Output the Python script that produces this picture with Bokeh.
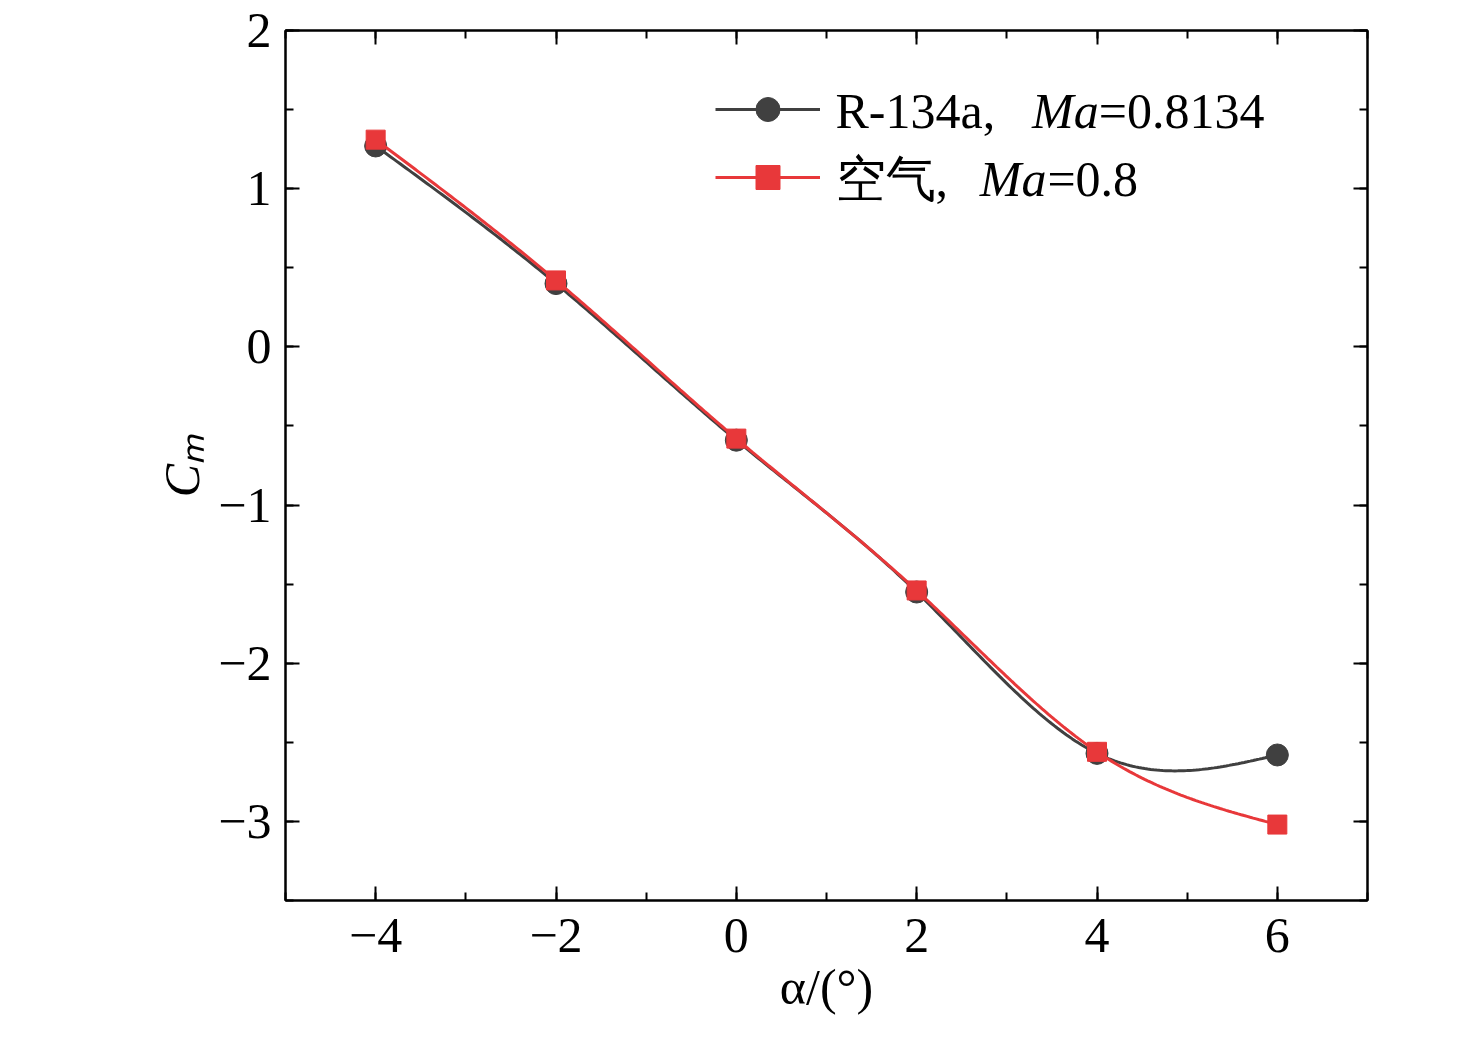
import numpy as np
from bokeh.plotting import figure
from bokeh.models import FixedTicker, LinearAxis, Range1d, Legend, LegendItem, Label
from bokeh.embed import file_html
from bokeh.resources import INLINE

alpha = [-4, -2, 0, 2, 4, 6]
cm_r134a = [1.27, 0.40, -0.59, -1.55, -2.57, -2.58]
cm_air = [1.31, 0.42, -0.58, -1.54, -2.56, -3.02]
x_ticks = [-4, -2, 0, 2, 4, 6]
y_ticks = [-3, -2, -1, 0, 1, 2]

def spline(x, y, n=300):
    x = np.asarray(x, float); y = np.asarray(y, float)
    k = len(x); h = np.diff(x)
    A = np.zeros((k, k)); b = np.zeros(k)
    A[0, 0] = A[-1, -1] = 1
    for i in range(1, k - 1):
        A[i, i - 1] = h[i - 1]; A[i, i] = 2 * (h[i - 1] + h[i]); A[i, i + 1] = h[i]
        b[i] = 6 * ((y[i + 1] - y[i]) / h[i] - (y[i] - y[i - 1]) / h[i - 1])
    M = np.linalg.solve(A, b)
    xs = np.linspace(x[0], x[-1], n)
    idx = np.clip(np.searchsorted(x, xs) - 1, 0, k - 2)
    x0, x1 = x[idx], x[idx + 1]; hh = x1 - x0
    ys = (M[idx] * (x1 - xs) ** 3 + M[idx + 1] * (xs - x0) ** 3) / (6 * hh) \
        + (y[idx] / hh - M[idx] * hh / 6) * (x1 - xs) + (y[idx + 1] / hh - M[idx + 1] * hh / 6) * (xs - x0)
    return xs, ys

FONT = "Liberation Serif"
FS = "50px"
p = figure(width=1460, height=1020, output_backend="svg", toolbar_location=None,
           x_range=Range1d(-5, 7), y_range=Range1d(-3.5, 2),
           min_border_left=285, min_border_top=30, min_border_right=93, min_border_bottom=120)
p.grid.visible = False
p.outline_line_color = "black"; p.outline_line_width = 2

def style(ax, ticks, minor, labels=True):
    ax.ticker = FixedTicker(ticks=ticks, minor_ticks=minor)
    ax.major_tick_in = 14; ax.major_tick_out = 0
    ax.minor_tick_in = 8; ax.minor_tick_out = 0
    ax.axis_line_width = 2; ax.major_tick_line_width = 2; ax.minor_tick_line_width = 2
    ax.major_label_text_font = FONT; ax.major_label_text_font_size = FS
    ax.major_label_text_color = "black"
    ax.axis_label_text_font = FONT; ax.axis_label_text_font_size = FS
    ax.axis_label_text_color = "black"
    ax.major_label_overrides = {t: (str(t).replace("-", "−")) for t in ticks}
    if not labels:
        ax.major_label_text_font_size = "0px"

xminor = list(np.arange(-5, 7.01, 1.0)); yminor = list(np.arange(-3.5, 2.01, 0.5))
style(p.xaxis[0], x_ticks, xminor); style(p.yaxis[0], y_ticks, yminor)
p.xaxis[0].axis_label = "α/(°)"; p.xaxis[0].axis_label_text_font_style = "normal"
p.xaxis[0].major_label_standoff = 18
p.xaxis[0].axis_label_standoff = 4
p.yaxis[0].axis_label = "Cₘ"; p.yaxis[0].axis_label_text_font_style = "italic"
p.yaxis[0].major_label_standoff = 14
ta = LinearAxis(); style(ta, x_ticks, xminor, False); p.add_layout(ta, "above")
ra = LinearAxis(); style(ra, y_ticks, yminor, False); p.add_layout(ra, "right")

gray, red = "#404040", "#e8383a"
xs, ys = spline(alpha, cm_r134a)
l1 = p.line(xs, ys, color=gray, line_width=3)
s1 = p.scatter(alpha, cm_r134a, marker="circle", size=22, color=gray)
xs, ys = spline(alpha, cm_air)
l2 = p.line(xs, ys, color=red, line_width=3)
s2 = p.scatter(alpha, cm_air, marker="square", size=19, color=red)

leg = Legend(items=[LegendItem(label=" ", renderers=[l1, s1]), LegendItem(label=" ", renderers=[l2, s2])],
             location=(430, 693), glyph_width=105, glyph_height=60, label_height=60,
             spacing=8, padding=0, margin=0, border_line_alpha=0, background_fill_alpha=0,
             label_text_font_size="10px")
p.add_layout(leg)

def lab(x, y, t, style="normal"):
    p.add_layout(Label(x=x, y=y, text=t, text_font=FONT, text_font_size=FS, text_color="black",
                       text_font_style=style, text_baseline="middle"))
y1, y2 = 1.49, 1.06
lab(1.1, y1, "R-134a,"); lab(3.28, y1, "Ma", "italic"); lab(4.02, y1, "=0.8134")
lab(1.1, y2, "空气,"); lab(2.70, y2, "Ma", "italic"); lab(3.45, y2, "=0.8")

open("out.html", "w").write(file_html(p, INLINE))
